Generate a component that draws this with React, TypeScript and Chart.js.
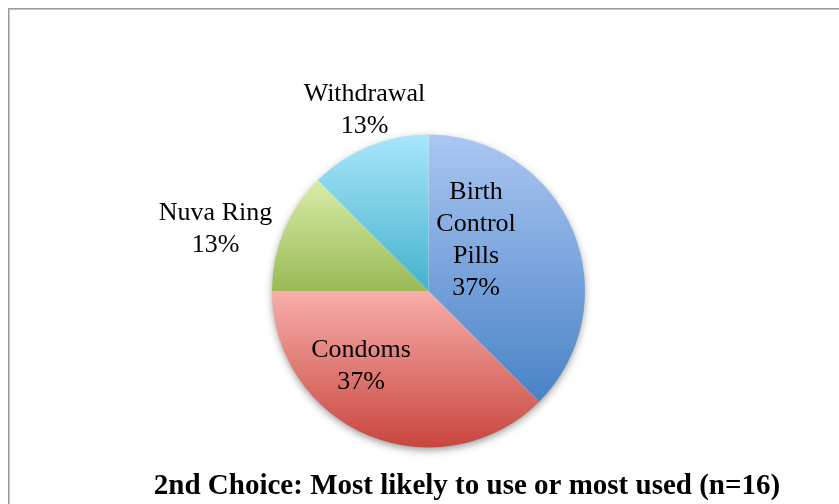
import React, { useEffect, useRef } from "react";
import { Chart, registerables } from "chart.js";

Chart.register(...registerables);

// ---- data ----
const categories: string[][] = [["Birth", "Control", "Pills"], ["Condoms"], ["Nuva Ring"], ["Withdrawal"]];
const counts: number[] = [6, 6, 2, 2];
const percentLabels: string[] = ["37%", "37%", "13%", "13%"];
const chartTitle = "2nd Choice: Most likely to use or most used (n=16)";

// ---- styles ----
const gradientStops: [string, string][] = [
  ["#abc6f2", "#4883c6"],
  ["#f8aeaa", "#c8463e"],
  ["#d9eca9", "#99b955"],
  ["#a9e6fb", "#44b2cb"],
];
// label anchor offsets (in radius units) relative to the pie centre
const labelOffsets: [number, number][] = [
  [0.304, -0.335],
  [-0.431, 0.47],
  [-1.361, -0.406],
  [-0.409, -1.166],
];
const LABEL_FONT = "26px 'Liberation Serif', 'Times New Roman', serif";
const TITLE_FONT = "bold 29px 'Liberation Serif', 'Times New Roman', serif";
const LINE_H = 32;

function pieGeom(chart: any) {
  const a = chart.chartArea;
  const cx = (a.left + a.right) / 2;
  const cy = (a.top + a.bottom) / 2;
  const r = Math.min(a.right - a.left, a.bottom - a.top) / 2;
  return { cx, cy, r };
}

function sliceGradient(context: any) {
  const chart = context.chart;
  if (!chart.chartArea) return gradientStops[context.dataIndex][0];
  const { cx, cy, r } = pieGeom(chart);
  const data: number[] = chart.data.datasets[0].data;
  const total = data.reduce((s, v) => s + v, 0);
  let before = 0;
  for (let i = 0; i < context.dataIndex; i++) before += data[i];
  const a0 = -Math.PI / 2 + (before / total) * Math.PI * 2;
  const a1 = a0 + (data[context.dataIndex] / total) * Math.PI * 2;
  const ys = [cy, cy + r * Math.sin(a0), cy + r * Math.sin(a1)];
  const within = (t: number) => {
    for (let k = -1; k <= 2; k++) {
      const tt = t + k * Math.PI * 2;
      if (tt >= a0 - 1e-9 && tt <= a1 + 1e-9) return true;
    }
    return false;
  };
  if (within(Math.PI / 2)) ys.push(cy + r);
  if (within(-Math.PI / 2)) ys.push(cy - r);
  const y0 = Math.min(...ys);
  const y1 = Math.max(...ys);
  const g = chart.ctx.createLinearGradient(0, y0, 0, y1);
  const [c0, c1] = gradientStops[context.dataIndex];
  g.addColorStop(0, c0);
  g.addColorStop(1, c1);
  return g;
}

const decorPlugin = {
  id: "decor",
  beforeDraw(chart: any) {
    const ctx = chart.ctx;
    ctx.save();
    ctx.fillStyle = "#ffffff";
    ctx.fillRect(0, 0, chart.width, chart.height);
    ctx.lineWidth = 1;
    ctx.strokeStyle = "#9a9a9a";
    ctx.strokeRect(8.5, 8.5, chart.width + 20, chart.height + 20);
    ctx.strokeStyle = "#c4c4c4";
    ctx.strokeRect(9.5, 9.5, chart.width + 20, chart.height + 20);
    ctx.restore();
  },
  beforeDatasetsDraw(chart: any) {
    const ctx = chart.ctx;
    const { cx, cy, r } = pieGeom(chart);
    ctx.save();
    ctx.shadowColor = "rgba(0,0,0,0.45)";
    ctx.shadowBlur = 8;
    ctx.shadowOffsetX = 0;
    ctx.shadowOffsetY = 3;
    ctx.fillStyle = "#ffffff";
    ctx.beginPath();
    ctx.arc(cx, cy, r - 1, 0, Math.PI * 2);
    ctx.fill();
    ctx.restore();
  },
  afterDatasetsDraw(chart: any) {
    const ctx = chart.ctx;
    const { cx, cy, r } = pieGeom(chart);
    ctx.save();
    ctx.fillStyle = "#000000";
    ctx.textAlign = "center";
    ctx.textBaseline = "alphabetic";
    ctx.font = LABEL_FONT;
    const capH = 17;
    chart.data.labels.forEach((lab: string[], i: number) => {
      const lines = [...lab, percentLabels[i]];
      const bx = cx + labelOffsets[i][0] * r;
      const by = cy + labelOffsets[i][1] * r;
      const firstBase = by - ((lines.length - 1) * LINE_H) / 2 + capH / 2;
      lines.forEach((t, j) => ctx.fillText(t, bx, firstBase + j * LINE_H));
    });
    ctx.font = TITLE_FONT;
    ctx.fillText(chartTitle, 467, 494);
    ctx.restore();
  },
};

export default function App() {
  const ref = useRef<HTMLCanvasElement>(null);
  useEffect(() => {
    if (!ref.current) return;
    const chart = new Chart(ref.current, {
      type: "pie",
      data: {
        labels: categories as any,
        datasets: [
          {
            data: counts,
            backgroundColor: sliceGradient as any,
            borderWidth: 0,
          },
        ],
      },
      options: {
        responsive: false,
        animation: false,
        devicePixelRatio: 1,
        layout: { padding: { left: 272, right: 254, top: 134.5, bottom: 56.5 } },
        plugins: {
          legend: { display: false },
          tooltip: { enabled: false },
          title: { display: false },
        },
      },
      plugins: [decorPlugin],
    });
    return () => chart.destroy();
  }, []);
  return (
    <div style={{ position: "fixed", left: 0, top: 0, width: 839, height: 504, background: "#fff" }}>
      <canvas ref={ref} width={839} height={504} style={{ display: "block" }} />
    </div>
  );
}
